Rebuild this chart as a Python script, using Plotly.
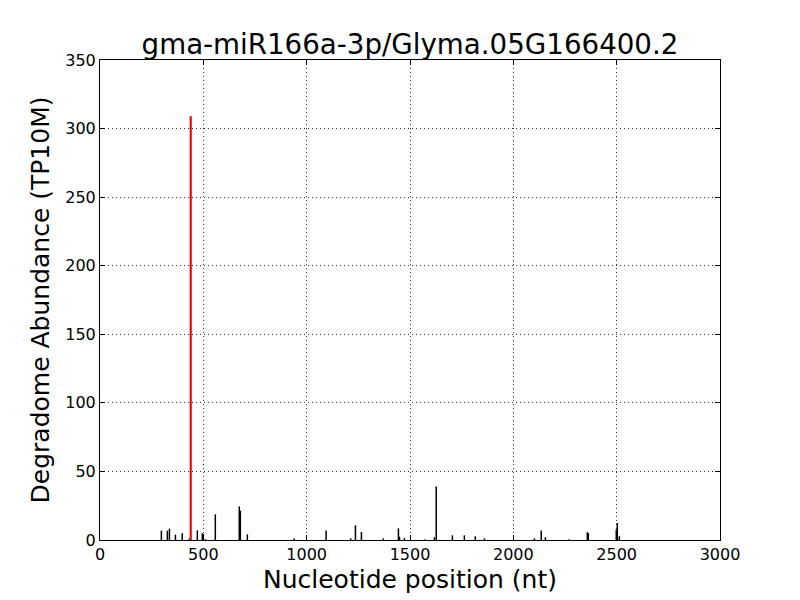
import plotly.graph_objects as go

title = "gma-miR166a-3p/Glyma.05G166400.2"
positions = [297, 326, 336, 365, 398, 432, 471, 495, 500, 511, 558, 674, 679, 713, 940, 1094,
             1213, 1236, 1265, 1371, 1444, 1449, 1473, 1571, 1618, 1627, 1705, 1763, 1816, 1860,
             2102, 2135, 2155, 2268, 2358, 2363, 2498, 2503, 2513]
abundance = [6.8, 6.8, 8.3, 3.9, 4.9, 1.0, 7.0, 4.9, 4.4, 0.5, 18.7, 24.5, 21.4, 4.1, 1.2, 7.0,
             1.2, 10.7, 5.8, 1.2, 8.5, 2.4, 1.5, 0.5, 2.0, 39.1, 3.4, 3.4, 2.7, 1.2,
             1.2, 7.0, 2.0, 0.5, 5.6, 5.0, 7.5, 12.4, 2.7]
target_pos = [439]
target_val = [309]


def stems(xs, ys):
    sx, sy = [], []
    for x, y in zip(xs, ys):
        sx += [x, x, None]
        sy += [0, y, None]
    return sx, sy


bx, by = stems(positions, abundance)
rx, ry = stems(target_pos, target_val)

fig = go.Figure()
fig.add_trace(go.Scatter(x=bx, y=by, mode="lines", line=dict(color="black", width=1.5),
                         hoverinfo="skip", showlegend=False))
fig.add_trace(go.Scatter(x=rx, y=ry, mode="lines", line=dict(color="red", width=2.2),
                         hoverinfo="skip", showlegend=False))

axis_common = dict(showline=True, linecolor="black", linewidth=1, mirror="ticks",
                   ticks="inside", ticklen=5, tickcolor="black", tickwidth=1,
                   showgrid=True, gridcolor="#333333", griddash="1px,3px", gridwidth=1,
                   zeroline=False, automargin=False,
                   tickfont=dict(family="DejaVu Sans", size=16, color="black"))

fig.update_layout(
    width=800, height=600,
    paper_bgcolor="white", plot_bgcolor="white",
    margin=dict(l=92, r=88, t=52, b=68),
    title=dict(text=title, x=(92 + 310) / 800, xanchor="center", y=1 - 36 / 600, yanchor="middle",
               font=dict(family="DejaVu Sans", size=27.7, color="black")),
    xaxis=dict(range=[0, 3000], tickvals=[0, 500, 1000, 1500, 2000, 2500, 3000],
               title=dict(text="Nucleotide position (nt)", standoff=7,
                          font=dict(family="DejaVu Sans", size=25, color="black")),
               **axis_common),
    yaxis=dict(range=[0, 350], tickvals=[0, 50, 100, 150, 200, 250, 300, 350],
               title=dict(text="Degradome Abundance (TP10M)", standoff=8,
                          font=dict(family="DejaVu Sans", size=25, color="black")),
               **axis_common),
)

fig.write_html("out.html")
